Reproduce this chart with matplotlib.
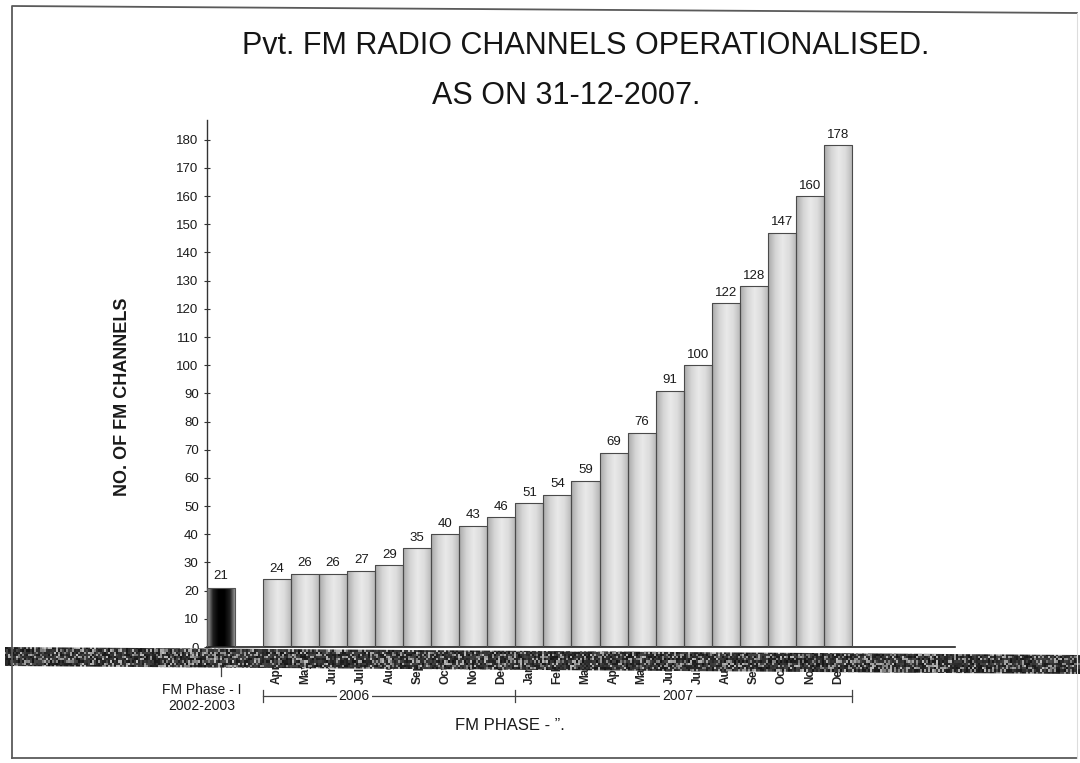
import numpy as np
import matplotlib
matplotlib.use("Agg")
import matplotlib.pyplot as plt
from matplotlib.colors import LinearSegmentedColormap
from matplotlib.patches import Polygon

plt.rcParams["font.family"] = ["Liberation Sans", "DejaVu Sans"]

# ---- data ----
phase1_label = "FM Phase - I\n2002-2003"
phase1_value = 21
months_2006 = ["Apr", "May", "Jun", "Jul", "Aug", "Sep", "Oct", "Nov", "Dec"]
values_2006 = [24, 26, 26, 27, 29, 35, 40, 43, 46]
months_2007 = ["Jan", "Feb", "Mar", "Apr", "May", "Jun", "Jul", "Aug", "Sep",
               "Oct", "Nov", "Dec"]
values_2007 = [51, 54, 59, 69, 76, 91, 100, 122, 128, 147, 160, 178]
year_labels = ["2006", "2007"]
y_ticks = list(range(0, 181, 10))

title_line1 = "Pvt. FM RADIO CHANNELS OPERATIONALISED."
title_line2 = "AS ON 31-12-2007."
y_title = "NO. OF FM CHANNELS"
phase2_label = "FM PHASE - \u201d."

# ---- figure / pixel helpers ----
W, H = 1080, 763
fig = plt.figure(figsize=(W / 100, H / 100), dpi=100)
fig.patch.set_facecolor("white")

AX_L, AX_R, AX_T, AX_B = 207, 955, 120, 647
ax = fig.add_axes([AX_L / W, 1 - AX_B / H, (AX_R - AX_L) / W, (AX_B - AX_T) / H])


def ay(py):
    """pixel row -> axes fraction of the bar axes"""
    return (AX_B - py) / (AX_B - AX_T)


def axx(px):
    """pixel column -> axes fraction of the bar axes"""
    return (px - AX_L) / (AX_R - AX_L)


months = months_2006 + months_2007
values = values_2006 + values_2007
xpos = np.arange(len(values))
phase1_x = -2

grey_cmap = LinearSegmentedColormap.from_list(
    "bar_grey", ["#a9a9a9", "#d4d4d4", "#e9e9e9", "#dcdcdc", "#b5b5b5"])
black_cmap = LinearSegmentedColormap.from_list(
    "bar_black", ["#b0b0b0", "#202020", "#000000", "#000000", "#202020", "#a8a8a8"])
ramp = np.linspace(0, 1, 64).reshape(1, -1)

bars_p1 = ax.bar([phase1_x], [phase1_value], width=1.0, facecolor="none",
                 edgecolor="#555555", linewidth=0.8, zorder=3)
bars_p2 = ax.bar(xpos, values, width=1.0, facecolor="none",
                 edgecolor="#4a4a4a", linewidth=0.8, zorder=3)


def shade(patch, cmap):
    x0, y0 = patch.get_x(), patch.get_y()
    w, h = patch.get_width(), patch.get_height()
    im = ax.imshow(ramp, cmap=cmap, extent=(x0, x0 + w, y0, y0 + h),
                   aspect="auto", interpolation="bilinear", zorder=2)
    im.set_clip_path(patch)


for p in bars_p1:
    shade(p, black_cmap)
for p in bars_p2:
    shade(p, grey_cmap)

ax.set_xlim(-2.5, 24.18)
ax.set_ylim(0, 187)

# value labels
ax.text(phase1_x, phase1_value + 2, str(phase1_value), ha="center", va="bottom",
        fontsize=9.5, color="#1a1a1a")
for x, v in zip(xpos, values):
    ax.text(x, v + 1.6, str(v), ha="center", va="bottom", fontsize=9.5,
            color="#1a1a1a")

# axes styling
for s in ["top", "right"]:
    ax.spines[s].set_visible(False)
ax.spines["left"].set_color("#333333")
ax.spines["left"].set_linewidth(1.0)
ax.spines["bottom"].set_color("#222222")
ax.spines["bottom"].set_linewidth(1.2)
ax.set_yticks(y_ticks)
ax.set_yticklabels([str(t) for t in y_ticks], fontsize=9.5, color="#1a1a1a")
ax.tick_params(axis="y", direction="inout", length=4, width=0.8,
               color="#333333", pad=4)
ax.set_xticks([])
ax.set_ylabel(y_title, fontsize=13, fontweight="bold", color="#1a1a1a")
ax.yaxis.set_label_coords(axx(131), ay(397))

# month labels below the axis
xt = ax.get_xaxis_transform()
for x, m in zip(xpos, months):
    ax.text(x, ay(684), m, rotation=90, ha="center", va="bottom", fontsize=8.5,
            fontweight="bold", color="#222222", transform=xt, clip_on=False)

# phase-I marker and caption
ax.plot([phase1_x, phase1_x], [ay(667), ay(676)], transform=xt, color="#444444",
        lw=0.9, clip_on=False)
ax.text(phase1_x - 0.7, ay(698), phase1_label, ha="center", va="center",
        fontsize=10, color="#1a1a1a", transform=xt, clip_on=False,
        linespacing=1.15)

# year bracket
yb = ay(696)
left_edge = xpos[0] - 0.5
split = len(values_2006) - 0.5
right_edge = xpos[-1] + 0.5
ax.plot([left_edge, right_edge], [yb, yb], transform=xt, color="#444444",
        lw=0.9, clip_on=False, zorder=1)
for xe in (left_edge, split, right_edge):
    ax.plot([xe, xe], [ay(690), ay(702)], transform=xt, color="#444444",
            lw=0.9, clip_on=False)
for label, xc in zip(year_labels, [2.75, 14.3]):
    ax.text(xc, yb, label, ha="center", va="center", fontsize=10,
            color="#1a1a1a", transform=xt, clip_on=False,
            bbox=dict(facecolor="white", edgecolor="none", pad=1.5))

ax.text(8.3, ay(725), phase2_label, ha="center", va="center", fontsize=12,
        color="#1a1a1a", transform=xt, clip_on=False)

# titles
fig.text(586 / W, 1 - 46 / H, title_line1, ha="center", va="center",
         fontsize=22, color="#151515")
fig.text(566 / W, 1 - 96 / H, title_line2, ha="center", va="center",
         fontsize=22, color="#151515")

# ---- page overlay: frame and dark printed strip along the axis ----
ov = fig.add_axes([0, 0, 1, 1], zorder=10)
ov.set_xlim(0, W)
ov.set_ylim(H, 0)
ov.axis("off")
ov.patch.set_alpha(0)

frame_x = [12, 12, 1077, 1077, 12]
frame_y = [758, 6, 13, 758, 758]
ov.plot(frame_x[:3], frame_y[:3], color="#5a5a5a", lw=1.3)
ov.plot(frame_x[3:], frame_y[3:], color="#5a5a5a", lw=1.3)
ov.plot([1077, 1077], [13, 758], color="#dddddd", lw=0.8)

band = Polygon([(5, 647), (1080, 655), (1080, 674), (5, 666)], closed=True,
               facecolor="none", edgecolor="none")
ov.add_patch(band)
tex_rng = np.random.default_rng(11)
rows, cols = 14, 540
speck = tex_rng.random((rows, cols))
tone = np.where(speck > 0.72, 0.45 + 0.3 * tex_rng.random((rows, cols)),
                0.08 + 0.2 * tex_rng.random((rows, cols)))
tex = ov.imshow(tone, cmap="gray", vmin=0, vmax=1, extent=(0, W, 676, 645),
                aspect="auto", interpolation="nearest")
tex.set_clip_path(band)
ov.set_xlim(0, W)
ov.set_ylim(H, 0)

fig.savefig("out.png", dpi=100, facecolor="white")
